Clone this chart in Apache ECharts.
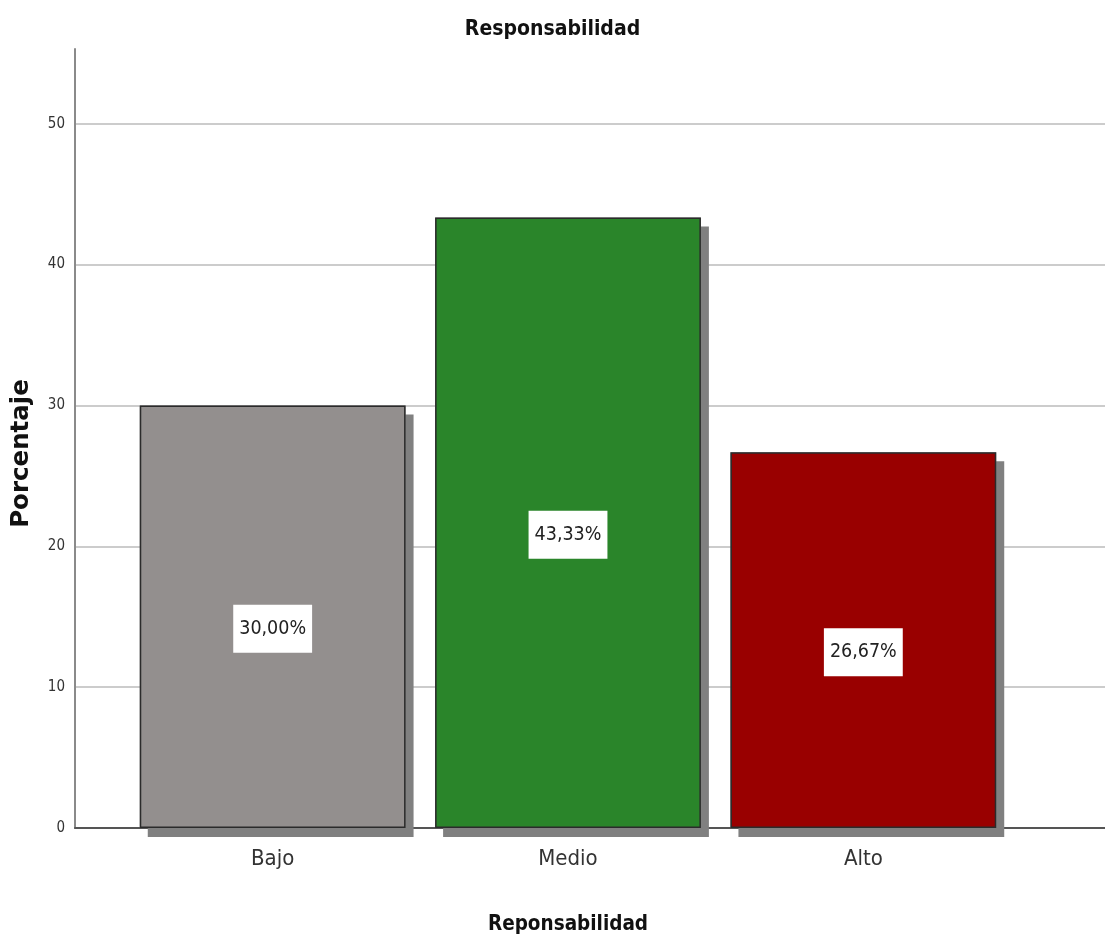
<!DOCTYPE html>
<html>
<head>
<meta charset="utf-8">
<title>Responsabilidad</title>
<script src="https://cdn.jsdelivr.net/npm/echarts@6/dist/echarts.min.js"></script>
<style>
  html, body { margin: 0; padding: 0; background: #ffffff; }
  #chart { width: 1105px; height: 943px; }
</style>
</head>
<body>
<div id="chart"></div>
<script>
// Categories and percentage per level
const categories = ['Bajo', 'Medio', 'Alto'];
const percentages = [30.00, 43.33, 26.67];
const barColors = ['#938f8e', '#2a852a', '#990000'];

// Value axis range
const yMin = 0;
const yMax = 55.3;
const yInterval = 10;

const narrow = "'DejaVu Sans Condensed', 'Liberation Sans Narrow', sans-serif";

const chart = echarts.init(document.getElementById('chart'));

const fmtPct = v => v.toFixed(2).replace('.', ',') + '%';

chart.setOption({
  backgroundColor: '#ffffff',
  animation: false,
  title: {
    text: 'Responsabilidad',
    left: 'center',
    top: 14,
    textStyle: { fontFamily: narrow, fontWeight: 'bold', fontSize: 21, color: '#111' }
  },
  grid: [
    // frame: value axis, gridlines and baseline
    { left: 75, right: 0, top: 49, bottom: 115 },
    // bar area
    { left: 125, right: 94, top: 49, bottom: 115 }
  ],
  xAxis: [
    {
      gridIndex: 0,
      type: 'value',
      min: 0, max: 1,
      axisLine: { show: true, onZero: false, lineStyle: { color: '#555', width: 2 } },
      axisTick: { show: false },
      axisLabel: { show: false },
      splitLine: { show: false }
    },
    {
      gridIndex: 1,
      type: 'category',
      data: categories,
      axisLine: { show: false },
      axisTick: { show: false },
      axisLabel: { margin: 20, fontFamily: narrow, fontSize: 22, color: '#333' },
      name: 'Reponsabilidad',
      nameLocation: 'middle',
      nameGap: 86,
      nameTextStyle: { fontFamily: narrow, fontWeight: 'bold', fontSize: 20.5, color: '#111' }
    }
  ],
  yAxis: [
    {
      gridIndex: 0,
      type: 'value',
      min: yMin, max: yMax, interval: yInterval,
      axisLine: { show: true, lineStyle: { color: '#8a8a8a', width: 2 } },
      axisTick: { show: false },
      axisLabel: {
        showMaxLabel: false,
        margin: 10,
        fontFamily: narrow, fontSize: 15, color: '#333',
        formatter: v => (v % yInterval === 0 ? String(v) : '')
      },
      splitLine: { show: true, showMaxLine: false, showMinLine: false, lineStyle: { color: '#cccccc', width: 2 } },
      name: 'Porcentaje',
      nameLocation: 'middle',
      nameRotate: 90,
      nameGap: 41,
      nameTextStyle: {
        fontFamily: "'DejaVu Sans', sans-serif", fontWeight: 'bold', fontSize: 24.5, color: '#111',
        padding: [0, 30, 0, 0]
      }
    },
    {
      gridIndex: 1,
      type: 'value',
      min: yMin, max: yMax, interval: yInterval,
      show: false
    }
  ],
  series: [
    {
      // drop shadow under each bar
      type: 'bar',
      xAxisIndex: 1,
      yAxisIndex: 1,
      clip: false,
      silent: true,
      barGap: '-100%',
      barCategoryGap: '10%',
      data: percentages,
      itemStyle: {
        color: '#808080',
        shadowColor: '#808080',
        shadowBlur: 0,
        shadowOffsetX: 8,
        shadowOffsetY: 9
      }
    },
    {
      type: 'bar',
      xAxisIndex: 1,
      yAxisIndex: 1,
      clip: false,
      barGap: '-100%',
      barCategoryGap: '10%',
      data: percentages.map((v, i) => ({
        value: v,
        itemStyle: { color: barColors[i] }
      })),
      itemStyle: {
        borderColor: '#2b2b2b',
        borderWidth: 1.5
      },
      label: {
        show: true,
        position: 'inside',
        offset: [0, 12],
        formatter: p => fmtPct(p.value),
        backgroundColor: '#ffffff',
        padding: [16, 6, 10, 6],
        lineHeight: 22,
        fontFamily: narrow,
        fontSize: 19.5,
        color: '#222'
      }
    }
  ]
});
</script>
</body>
</html>
